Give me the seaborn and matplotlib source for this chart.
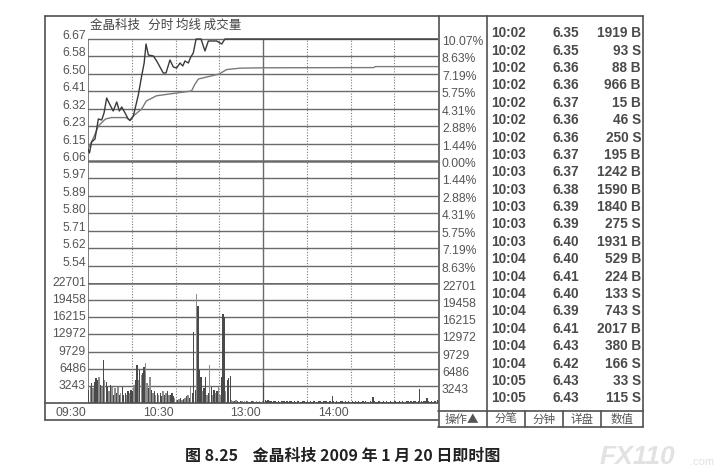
import matplotlib
matplotlib.use("Agg")
import matplotlib.pyplot as plt
import matplotlib.transforms as mtransforms
from matplotlib.lines import Line2D
import pandas as pd
import seaborn as sns

# Dati (minuto di contrattazione da 09:30, 0..240)
prev_close = 6.06

price_min = [0, 1, 2.5, 4.8, 7.1, 9.4, 11, 12.8, 15.1, 17.3, 19.7, 21.5, 23.1, 25.4, 27.6,
             28.8, 31.1, 34.5, 36.8, 38.5, 39.8, 41.4, 44.8, 47.1, 51.6, 53.5, 56.2, 58.5,
             60.8, 63.1, 65, 66.5, 68.8, 70.5, 72.2, 74.1, 77.5, 80.2, 82.5, 88.2, 90.5,
             91.7, 93.9, 240]
price_val = [6.12, 6.10, 6.155, 6.17, 6.27, 6.265, 6.30, 6.375, 6.34, 6.31, 6.355, 6.31,
             6.33, 6.30, 6.27, 6.262, 6.285, 6.39, 6.485, 6.55, 6.645, 6.59, 6.585, 6.56,
             6.50, 6.50, 6.565, 6.53, 6.525, 6.55, 6.535, 6.56, 6.55, 6.58, 6.60, 6.67,
             6.67, 6.61, 6.66, 6.66, 6.65, 6.645, 6.67, 6.67]

avg_min = [0, 1.4, 4, 7.1, 12, 16, 26, 28.8, 31.1, 36.8, 40, 47, 60.8, 71, 73.4, 75.7,
           81, 90, 95, 104, 120, 196, 197, 240]
avg_val = [6.12, 6.14, 6.18, 6.235, 6.27, 6.277, 6.277, 6.265, 6.285, 6.32, 6.36, 6.386,
           6.40, 6.41, 6.445, 6.47, 6.479, 6.495, 6.517, 6.524, 6.526, 6.527, 6.532, 6.532]

vol_morning = [2500, 3100, 3700, 2800, 4000, 4700, 4400, 5000, 3400, 3100,
               8200, 4400, 4000, 3100, 2200, 3400, 3100, 1600, 2800, 1900,
               3100, 1600, 1900, 3100, 1600, 1900, 1600, 2200, 1900, 2500,
               2200, 3400, 4400, 7200, 4400, 6200, 5300, 5600, 6900, 7600,
               3700, 2800, 5000, 2500, 1900, 2200, 1600, 1900, 1600, 1900,
               1250, 2200, 1600, 1900, 2200, 1600, 1600, 1900, 1250, 900,
               600, 600, 750, 900, 500, 750, 900, 1250, 1600, 900,
               3000, 1900, 13400, 2500, 20600, 18400, 6200, 5000, 2200, 2800,
               5000, 1600, 1900, 7200, 3100, 1600, 2500, 1900, 2200, 3100,
               1600, 5000, 16800, 16200, 2200, 4400, 4700, 5100, 600, 450,
               300, 500, 350, 250, 400, 300, 200, 350, 450, 300,
               250, 200, 350, 300, 250, 400, 200, 300, 250, 350]
vol_afternoon = [3700, 500, 350, 600, 300, 450, 250, 400, 300, 200,
                 350, 250, 400, 300, 450, 200, 300, 250, 350, 300,
                 200, 400, 250, 300, 350, 200, 250, 450, 300, 200,
                 300, 250, 350, 200, 400, 300, 250, 200, 350, 300,
                 250, 400, 300, 350, 200, 450, 300, 1300, 350, 250,
                 300, 200, 250, 350, 300, 200, 400, 250, 300, 200,
                 250, 300, 200, 350, 250, 300, 200, 250, 300, 200,
                 350, 250, 200, 300, 250, 1200, 300, 200, 250, 300,
                 200, 250, 300, 200, 350, 250, 200, 300, 250, 200,
                 300, 250, 200, 350, 250, 300, 200, 250, 300, 350,
                 250, 300, 200, 400, 300, 250, 350, 2650, 300, 250,
                 400, 300, 900, 350, 250, 300, 200, 450, 350, 500]
# tonalita delle barre (d = scura, l = chiara)
tone_morning = ("dldldddldl" "dlddldldld" "ldldddldld" "dlddldlddl" "ldldldldld" "dldldldddl"
                "ldldldldld" "ldddldddld" "dldldldldl" "ldddldddll" "dldldldldl" "dldldldldl")

pct_labels = [10.07, 8.63, 7.19, 5.75, 4.31, 2.88, 1.44]
price_labels = ['6.67', '6.58', '6.50', '6.41', '6.32', '6.23', '6.15', '6.06',
                '5.97', '5.89', '5.80', '5.71', '5.62', '5.54']
vol_ticks = [22701, 19458, 16215, 12972, 9729, 6486, 3243]
grid_minutes = [30, 60, 90, 150, 180, 210]
break_minute = 120
time_labels = ['09:30', '10:30', '13:00', '14:00']
time_pos = [0, 60, 120, 180]

tick_time = ['10:02'] * 7 + ['10:03'] * 6 + ['10:04'] * 7 + ['10:05'] * 2
tick_price = ['6.35', '6.35', '6.36', '6.36', '6.37', '6.36', '6.36', '6.37', '6.37', '6.38',
              '6.39', '6.39', '6.40', '6.40', '6.41', '6.40', '6.39', '6.41', '6.43', '6.42',
              '6.43', '6.43']
tick_vol = [1919, 93, 88, 966, 15, 46, 250, 195, 1242, 1590, 1840, 275, 1931, 529, 224,
            133, 743, 2017, 380, 166, 33, 115]
tick_side = ['B', 'S', 'B', 'B', 'B', 'S', 'S', 'B', 'B', 'B', 'B', 'S', 'B', 'B', 'B',
             'S', 'S', 'B', 'B', 'S', 'S', 'S']
buttons = ['分笔', '分钟', '详盘', '数值']

# Impostazioni generali
sns.set_theme(style="white")
plt.rcParams['font.family'] = ['Liberation Sans', 'Noto Sans CJK SC', 'DejaVu Sans']
W, H = 726, 476
fig = plt.figure(figsize=(W / 100, H / 100), dpi=100)
fig.patch.set_facecolor('white')

GRID = '#6a6a6a'
TXT = '#555555'


def box(x0, y0, x1, y1):
    return [x0 / W, 1 - y1 / H, (x1 - x0) / W, (y1 - y0) / H]


def fline(x0, y0, x1, y1, lw=1.2, c='#505050'):
    fig.add_artist(Line2D([x0 / W, x1 / W], [1 - y0 / H, 1 - y1 / H],
                          transform=fig.transFigure, lw=lw, color=c))


# Pannello prezzi
axp = fig.add_axes(box(88, 16, 438, 283))
axv = fig.add_axes(box(88, 283, 438, 403))
for a in (axp, axv):
    a.set_xlim(0, 240)
    a.set_xticks([])
    a.set_yticks([])
    a.set_facecolor('none')
    for s in a.spines.values():
        s.set_visible(False)

low = prev_close * (1 - pct_labels[0] / 100)
axp.set_ylim(low, 6.785)
levels = [prev_close * (1 + p / 100) for p in pct_labels] + [prev_close] + \
         [prev_close * (1 - p / 100) for p in reversed(pct_labels[1:])]
for lv in levels:
    axp.axhline(lv, color=GRID, lw=1.8 if lv == prev_close else 1.0, zorder=1)
top = levels[0]
axp.vlines(grid_minutes, low, top, color='#7a7a7a', lw=0.8, linestyles=(0, (1, 1.5)), zorder=1)
axp.vlines([break_minute], low, top, color=GRID, lw=1.0, zorder=1)
axp.vlines([0], low, top, color=GRID, lw=1.2, zorder=1)

sns.lineplot(x=avg_min, y=avg_val, ax=axp, color='#7a7a7a', lw=1.0, estimator=None, sort=False, zorder=3)
sns.lineplot(x=price_min, y=price_val, ax=axp, color='#3a3a3a', lw=1.0, estimator=None, sort=False, zorder=4)

left_p = mtransforms.blended_transform_factory(axp.transAxes, axp.transData)
right_pcts = [f"{p:.2f}%" for p in pct_labels] + ['0.00%'] + [f"{p:.2f}%" for p in reversed(pct_labels[1:])]
for lv, lab, rlab in zip(levels, price_labels, right_pcts):
    axp.text(0, lv, lab, transform=mtransforms.offset_copy(left_p, fig, x=-2, y=3, units='dots'),
             ha='right', va='center', fontsize=8.7, color=TXT)
    axp.text(1, lv, rlab, transform=mtransforms.offset_copy(left_p, fig, x=4, y=-3, units='dots'),
             ha='left', va='center', fontsize=8.7, color=TXT)

axp.text(0.006, 1 - 9 / 267, '金晶科技   分时 均线 成交量', transform=axp.transAxes,
         ha='left', va='center', fontsize=9, color='#444444',
         family=['Noto Sans CJK SC', 'DejaVu Sans'])

# Pannello volumi
vols = vol_morning + vol_afternoon
tones = list(tone_morning)[:len(vol_morning)] + ['d'] * len(vol_afternoon)
df = pd.DataFrame({'minute': [m + 0.5 for m in range(len(vols))], 'vol': vols, 'tone': tones})
sns.barplot(data=df, x='minute', y='vol', hue='tone', palette={'d': '#4a4a4a', 'l': '#8e8e8e'},
            native_scale=True, dodge=False, width=0.9, linewidth=0, saturation=1,
            errorbar=None, legend=False, ax=axv, zorder=3)
axv.set_xlim(0, 240)
axv.set_ylim(0, vol_ticks[0])
axv.set_xlabel('')
axv.set_ylabel('')
axv.set_xticks([])
axv.set_yticks([])
for v in vol_ticks:
    axv.axhline(v, color=GRID, lw=1.8 if v == vol_ticks[0] else 1.0, zorder=1)
axv.vlines(grid_minutes, 0, vol_ticks[0], color='#7a7a7a', lw=0.8, linestyles=(0, (1, 1.5)), zorder=1)
axv.vlines([break_minute], 0, vol_ticks[0], color=GRID, lw=1.0, zorder=1)
axv.vlines([0], 0, vol_ticks[0], color=GRID, lw=1.2, zorder=1)

left_v = mtransforms.blended_transform_factory(axv.transAxes, axv.transData)
for v in vol_ticks:
    axv.text(0, v, str(v), transform=mtransforms.offset_copy(left_v, fig, x=-2, y=0, units='dots'),
             ha='right', va='center', fontsize=8.7, color=TXT)
    axv.text(1, v, str(v), transform=mtransforms.offset_copy(left_v, fig, x=4, y=-4, units='dots'),
             ha='left', va='center', fontsize=8.7, color=TXT)

bottom_t = mtransforms.blended_transform_factory(axv.transData, axv.transAxes)
for pos, lab in zip(time_pos, time_labels):
    axv.text(pos, 0, lab, transform=mtransforms.offset_copy(bottom_t, fig, x=-2, y=-10, units='dots'),
             ha='right', va='center', fontsize=8.7, color=TXT)

# Cornice
fline(45, 16, 643, 16)
fline(45, 16, 45, 420)
fline(45, 403, 438, 403)
fline(45, 420, 438, 420)
fline(439, 16, 439, 427)
fline(487, 16, 487, 427)
fline(643, 16, 643, 427)
fline(438, 411, 643, 411)
fline(438, 427, 643, 427)

# Tabella dei tick
row_y0, row_dy = 33.3, 17.38
for i, (t, p, v, s) in enumerate(zip(tick_time, tick_price, tick_vol, tick_side)):
    yy = 1 - (row_y0 + i * row_dy) / H
    fig.text(491 / W, yy, t, ha='left', va='center', fontsize=9.8, fontweight='bold', color='#4a4a4a')
    fig.text(566 / W, yy, p, ha='center', va='center', fontsize=9.8, fontweight='bold', color='#4a4a4a')
    fig.text(641 / W, yy, f"{v} {s}", ha='right', va='center', fontsize=9.8, fontweight='bold', color='#4a4a4a')

cjk = ['Noto Sans CJK SC', 'DejaVu Sans']
fig.text(462 / W, 1 - 419.5 / H, '操作▲', ha='center', va='center', fontsize=8.3, color=TXT, family=cjk)
cells = [487, 525, 563, 601, 643]
for k, lab in enumerate(buttons):
    if k > 0:
        fline(cells[k], 411, cells[k], 427)
    fig.text((cells[k] + cells[k + 1]) / 2 / W, 1 - 419.5 / H, lab, ha='center', va='center',
             fontsize=8.3, color=TXT, family=cjk)

# Didascalia e filigrana
fig.text(343 / W, 1 - 456 / H, '图 8.25    金晶科技 2009 年 1 月 20 日即时图', ha='center', va='center',
         fontsize=11.5, fontweight='bold', color='#222222', family=cjk)
fig.text(600 / W, 1 - 457 / H, 'FX110', ha='left', va='center', fontsize=19, fontweight='bold',
         fontstyle='italic', color='#e2e2e2')
fig.text(690 / W, 1 - 462 / H, '.com', ha='left', va='center', fontsize=8, color='#e2e2e2')

fig.savefig('out.png', dpi=100)
